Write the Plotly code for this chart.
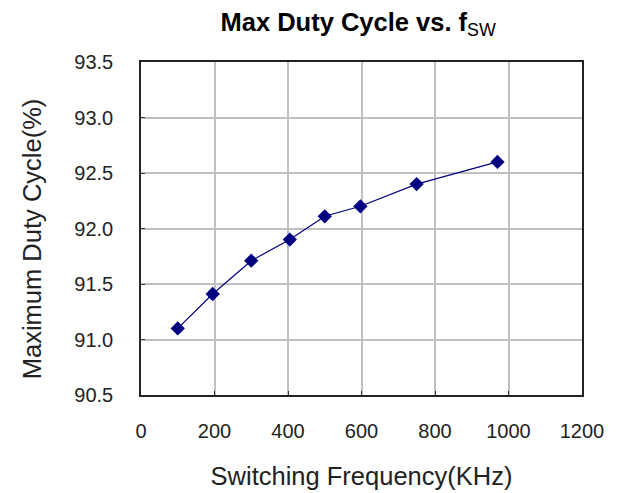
import plotly.graph_objects as go

freq_khz = [100, 195, 300, 405, 500, 597, 750, 970]
max_duty = [91.1, 91.41, 91.71, 91.9, 92.11, 92.2, 92.4, 92.6]

x_ticks = [0, 200, 400, 600, 800, 1000, 1200]
y_ticks = [90.5, 91.0, 91.5, 92.0, 92.5, 93.0, 93.5]

fig = go.Figure()
fig.add_trace(go.Scatter(
    x=freq_khz, y=max_duty, mode="lines+markers",
    line=dict(color="#000080", width=1.2),
    marker=dict(symbol="diamond", size=11, color="#000080"),
    showlegend=False,
))

font_family = "Liberation Sans, Arial, sans-serif"
fig.update_layout(
    width=609, height=485,
    margin=dict(l=133, r=35, t=54, b=98),
    paper_bgcolor="white", plot_bgcolor="white",
    font=dict(family=font_family, color="#222222"),
    title=dict(text="<b>Max Duty Cycle vs. f</b><sub>SW</sub>",
               x=0.575, xanchor="center", y=0.971, yanchor="middle",
               font=dict(size=25.5, color="black", family=font_family)),
    annotations=[dict(
        text="Maximum Duty Cycle(%)", textangle=-90,
        xref="paper", yref="paper", x=-0.247, y=0.468,
        xanchor="center", yanchor="middle", showarrow=False,
        font=dict(size=25.5, color="#222222", family=font_family),
    )],
)
fig.update_xaxes(
    range=[0, 1200], tickvals=x_ticks, ticktext=[str(v) for v in x_ticks],
    showgrid=True, gridcolor="#c0c0c0", gridwidth=1.5,
    showline=True, linecolor="#222222", linewidth=1.5, mirror=True,
    ticks="inside", ticklen=4, tickcolor="#333333",
    tickfont=dict(size=20, color="#222222"), ticklabelstandoff=17,
    title=dict(text="Switching Frequency(KHz)", font=dict(size=25.5, color="#222222"), standoff=26),
    zeroline=False, automargin=False,
)
fig.update_yaxes(
    range=[90.5, 93.5], tickvals=y_ticks, ticktext=[f"{v:.1f}" for v in y_ticks],
    showgrid=True, gridcolor="#c0c0c0", gridwidth=1.5,
    showline=True, linecolor="#222222", linewidth=1.5, mirror=True,
    ticks="inside", ticklen=4, tickcolor="#333333",
    tickfont=dict(size=20, color="#222222"), ticklabelstandoff=22,
    zeroline=False, automargin=False,
)

fig.write_html("out.html")
